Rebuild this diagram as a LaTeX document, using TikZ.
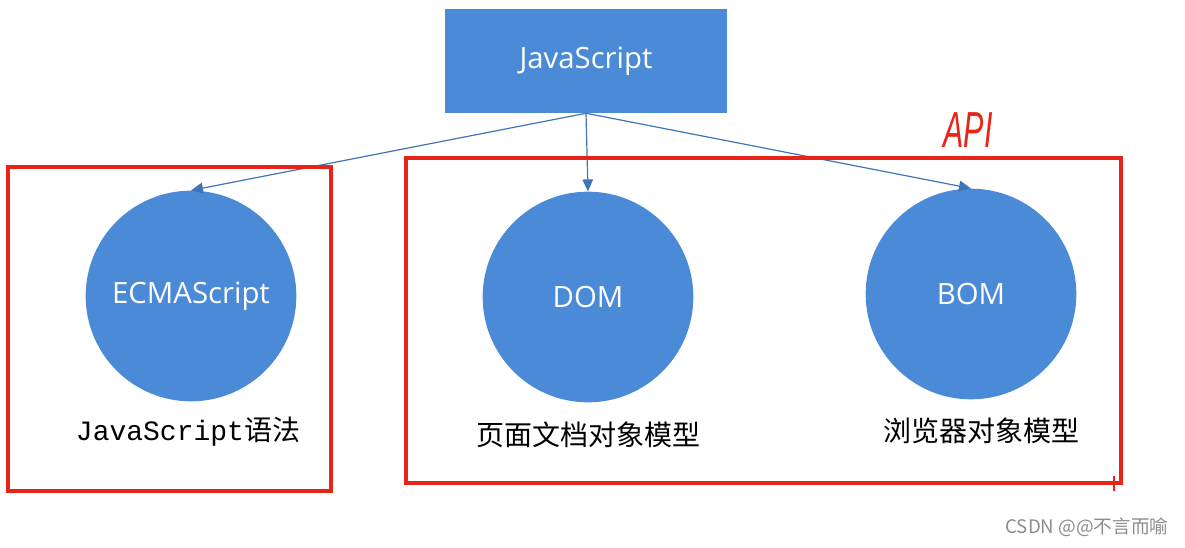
\documentclass[tikz,border=0pt]{standalone}
\usepackage{fontspec}
\setmainfont{Open Sans}
\newfontfamily\cjk{Noto Sans CJK SC}
\newfontfamily\mono{Liberation Mono}
\newfontfamily\apifont{Liberation Sans}
\usetikzlibrary{arrows.meta}
\definecolor{nodeblue}{RGB}{74,138,214}
\definecolor{boxred}{RGB}{232,36,24}
\tikzset{
  bluecircle/.style={circle,fill=nodeblue,draw=none,minimum size=158pt,inner sep=0pt,text=white,font=\fontsize{22}{26}\selectfont},
  link/.style={draw=nodeblue!85!black,line width=0.9pt,-{Triangle[length=9pt,width=8pt]}},
  redbox/.style={draw=boxred,line width=2.6pt},
  caption/.style={inner sep=0.75pt,font=\cjk\fontsize{21}{25}\selectfont}
}

\begin{document}
\begin{tikzpicture}[x=0.75pt,y=0.75pt,yscale=-1,xscale=1]
\useasboundingbox (0,0) rectangle (1185,547);

% top box
\node (js) at (586,61) [fill=nodeblue,minimum width=211pt,minimum height=78pt,inner sep=0pt,text=white,font=\fontsize{22}{26}\selectfont] {JavaScript};

% circles
\node (ecma) at (191,296) [bluecircle] {ECMAScript};
\node (dom) at (588,297) [bluecircle] {DOM};
\node (bom) at (971,294) [bluecircle] {BOM};

% connectors
\draw [link] (js.south) -- (ecma.north);
\draw [link] (js.south) -- (dom.north);
\draw [link] (js.south) -- (bom.north);

% Text Node
\node (ecmalabel) at (188,432) [caption] {{\mono JavaScript}语法};
\node (domlabel) at (588,435) [caption] {页面文档对象模型};
\node (bomlabel) at (981,431) [caption] {浏览器对象模型};

% red frames
\draw [redbox] (8,167) rectangle (331,491);
\draw [redbox] (406,158) rectangle (1121,483);
\draw [redbox,line width=2pt] (1114,476) -- (1114,491);
\node (api) at (968,130) [text=boxred,xscale=0.6,inner sep=0pt,font=\apifont\itshape\fontsize{38}{42}\selectfont] {API};

\node (mark) at (1087,527) [text=black!45,inner sep=0pt,font=\cjk\fontsize{14}{16}\selectfont] {CSDN @@不言而喻};

\end{tikzpicture}
\end{document}
